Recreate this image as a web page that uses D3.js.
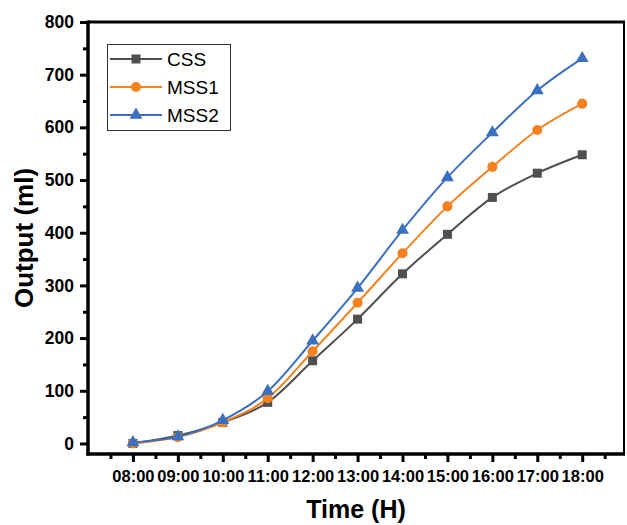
<!DOCTYPE html>
<html>
<head>
<meta charset="utf-8">
<script src="https://cdn.jsdelivr.net/npm/d3@7"></script>
<style>
  html, body { margin: 0; padding: 0; background: #fff; }
  svg { display: block; }
</style>
</head>
<body>
<svg id="chart" width="627" height="525"></svg>
<script>
const times = ["08:00","09:00","10:00","11:00","12:00","13:00","14:00","15:00","16:00","17:00","18:00"];
const cssVals  = [0, 15, 40, 78, 157, 236, 322, 397, 467, 513, 548];
const mss1Vals = [0, 12, 40, 86, 175, 267, 361, 450, 525, 595, 645];
const mss2Vals = [2, 13, 44, 99, 195, 295, 405, 505, 590, 670, 731];
const seriesNames = ["CSS", "MSS1", "MSS2"];
const yTicks = [0, 100, 200, 300, 400, 500, 600, 700, 800];

const colors = {CSS: "#4f4f4f", MSS1: "#f5821f", MSS2: "#3b6fbf"};
const symbols = {CSS: d3.symbolSquare, MSS1: d3.symbolCircle, MSS2: d3.symbolTriangle};
const symSize = {CSS: 81, MSS1: 80, MSS2: 72};
const seriesData = {CSS: cssVals, MSS1: mss1Vals, MSS2: mss2Vals};

const svg = d3.select("#chart");
const L = 88, T = 22, R = 624, B = 454;
const font = "'Liberation Sans', Arial, sans-serif";

const x = d3.scaleLinear().domain([-1, 10.93]).range([L, R]);
const y = d3.scaleLinear().domain([-20, 800]).range([B, T]);

// minor ticks
const xMinor = d3.range(-0.5, 10.6, 1);
const yMinor = d3.range(50, 800, 100);

// frame top and right
svg.append("line").attr("x1", L).attr("x2", R + 1).attr("y1", T).attr("y2", T)
  .attr("stroke", "#000").attr("stroke-width", 3);
svg.append("line").attr("x1", R).attr("x2", R).attr("y1", T).attr("y2", B)
  .attr("stroke", "#000").attr("stroke-width", 2);

// x axis
const xAxis = svg.append("g").attr("transform", `translate(0,${B})`)
  .call(d3.axisBottom(x).tickValues(d3.range(0, 11)).tickFormat(i => times[i]).tickSizeOuter(0).tickSize(8).tickPadding(8));
xAxis.select(".domain").remove();
xAxis.selectAll(".tick line").attr("stroke-width", 3);
xAxis.selectAll("text").attr("font-family", font).attr("font-weight", "bold").attr("font-size", 16.5).attr("fill", "#000");
svg.append("g").attr("transform", `translate(0,${B})`)
  .call(d3.axisBottom(x).tickValues(xMinor).tickFormat("").tickSize(5).tickSizeOuter(0))
  .call(g => g.select(".domain").remove())
  .selectAll(".tick line").attr("stroke-width", 3);
svg.append("line").attr("x1", L - 1.5).attr("x2", R + 1).attr("y1", B).attr("y2", B)
  .attr("stroke", "#000").attr("stroke-width", 3.5);

// y axis
const yAxis = svg.append("g").attr("transform", `translate(${L},0)`)
  .call(d3.axisLeft(y).tickValues(yTicks).tickSize(8).tickSizeOuter(0).tickPadding(6));
yAxis.select(".domain").remove();
yAxis.selectAll(".tick line").attr("stroke-width", 3);
yAxis.selectAll("text").attr("font-family", font).attr("font-weight", "bold").attr("font-size", 17.5).attr("fill", "#000");
svg.append("g").attr("transform", `translate(${L},0)`)
  .call(d3.axisLeft(y).tickValues(yMinor).tickFormat("").tickSize(5).tickSizeOuter(0))
  .call(g => g.select(".domain").remove())
  .selectAll(".tick line").attr("stroke-width", 3);
svg.append("line").attr("x1", L).attr("x2", L).attr("y1", T - 1.5).attr("y2", B + 1.5)
  .attr("stroke", "#000").attr("stroke-width", 3.5);

// series
const line = d3.line().x((d, i) => x(i)).y(d => y(d)).curve(d3.curveMonotoneX);
seriesNames.forEach(name => {
  const vals = seriesData[name];
  svg.append("path").datum(vals).attr("d", line)
    .attr("fill", "none").attr("stroke", colors[name]).attr("stroke-width", 2);
  svg.append("g").selectAll("path").data(vals).join("path")
    .attr("transform", (d, i) => `translate(${x(i)},${y(d)})`)
    .attr("d", d3.symbol().type(symbols[name]).size(symSize[name]))
    .attr("fill", colors[name]);
});

// legend
const lg = svg.append("g");
lg.append("rect").attr("x", 107.5).attr("y", 44.5).attr("width", 123).attr("height", 86)
  .attr("fill", "#fff").attr("stroke", "#333").attr("stroke-width", 1);
const legY = [59, 87, 115];
seriesNames.forEach((name, k) => {
  lg.append("line").attr("x1", 110).attr("x2", 162).attr("y1", legY[k]).attr("y2", legY[k])
    .attr("stroke", colors[name]).attr("stroke-width", 2);
  lg.append("path").attr("transform", `translate(136,${legY[k]})`)
    .attr("d", d3.symbol().type(symbols[name]).size(symSize[name])).attr("fill", colors[name]);
  lg.append("text").attr("x", 167).attr("y", legY[k]).attr("dy", "0.36em")
    .attr("font-family", font).attr("font-size", 19).attr("fill", "#000").text(name);
});

// axis titles
svg.append("text").attr("x", (L + R) / 2).attr("y", 518).attr("text-anchor", "middle")
  .attr("font-family", font).attr("font-weight", "bold").attr("font-size", 25).text("Time (H)");
svg.append("text").attr("transform", `translate(33,${(T + B) / 2}) rotate(-90)`).attr("text-anchor", "middle")
  .attr("font-family", font).attr("font-weight", "bold").attr("font-size", 26).text("Output (ml)");
</script>
</body>
</html>
